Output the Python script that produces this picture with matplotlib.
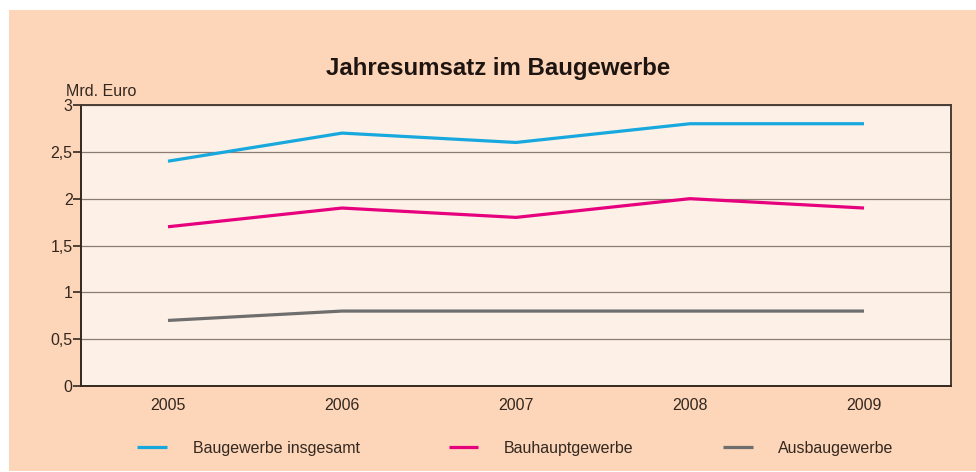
import matplotlib
matplotlib.use("Agg")
import matplotlib.pyplot as plt
from matplotlib.patches import Rectangle

plt.rcParams['font.family'] = ['Liberation Sans', 'DejaVu Sans']

years = ["2005", "2006", "2007", "2008", "2009"]
insgesamt = [2.4, 2.7, 2.6, 2.8, 2.8]
bauhaupt = [1.7, 1.9, 1.8, 2.0, 1.9]
ausbau = [0.7, 0.8, 0.8, 0.8, 0.8]
series_names = ["Baugewerbe insgesamt", "Bauhauptgewerbe", "Ausbaugewerbe"]
colors = ["#17a8de", "#e6007e", "#6e6e6e"]
yticks = [0, 0.5, 1, 1.5, 2, 2.5, 3]
ytick_labels = ["0", "0,5", "1", "1,5", "2", "2,5", "3"]

W, H = 976, 472
fig = plt.figure(figsize=(W/100, H/100), dpi=100)
fig.patch.set_facecolor("white")
fig.patches.append(Rectangle((9/W, 1 - 471/H), 1 - 9/W, (471 - 10)/H,
                             transform=fig.transFigure, facecolor="#fdd5b9",
                             edgecolor="none", zorder=-10))

ax = fig.add_axes([81/W, 1 - 386/H, (951 - 81)/W, (386 - 105)/H])
ax.set_zorder(5)
ax.set_facecolor("#fdf0e6")
txtc = "#33281f"
fs = 11.5
x = list(range(len(years)))
for vals, name, c in zip([insgesamt, bauhaupt, ausbau], series_names, colors):
    ax.plot(x, vals, color=c, lw=2.3, label=name, zorder=3, solid_capstyle="butt")

ax.set_xlim(-0.5, len(years) - 0.5)
ax.set_ylim(0, 3)
ax.set_yticks(yticks)
ax.set_yticklabels(ytick_labels)
ax.set_xticks(x)
ax.set_xticklabels(years)
ax.tick_params(axis="x", length=0, pad=9, labelsize=fs, labelcolor=txtc)
ax.tick_params(axis="y", length=6, width=1.2, color=txtc, pad=0, labelsize=fs, labelcolor=txtc)
ax.grid(axis="y", color="#8c7b70", lw=0.9, zorder=1)
ax.set_axisbelow(True)
for s in ax.spines.values():
    s.set_color("#4a3d35")
    s.set_linewidth(1.4)
ax.spines["left"].set_color(txtc)
ax.spines["bottom"].set_color(txtc)

fig.text(498/W, 1 - 68/H, "Jahresumsatz im Baugewerbe", ha="center", va="center",
         fontsize=17.3, fontweight="bold", color="#1e1410")
fig.text(66/W, 1 - 91/H, "Mrd. Euro", ha="left", va="center", fontsize=fs, color=txtc)

leg = fig.legend(loc="center", bbox_to_anchor=(515.5/W, 1 - 448/H), ncol=3, frameon=False,
                 fontsize=fs, handlelength=1.85, handletextpad=1.6, columnspacing=5.6,
                 labelcolor=txtc)

fig.savefig("out.png", dpi=100, facecolor=fig.get_facecolor())
